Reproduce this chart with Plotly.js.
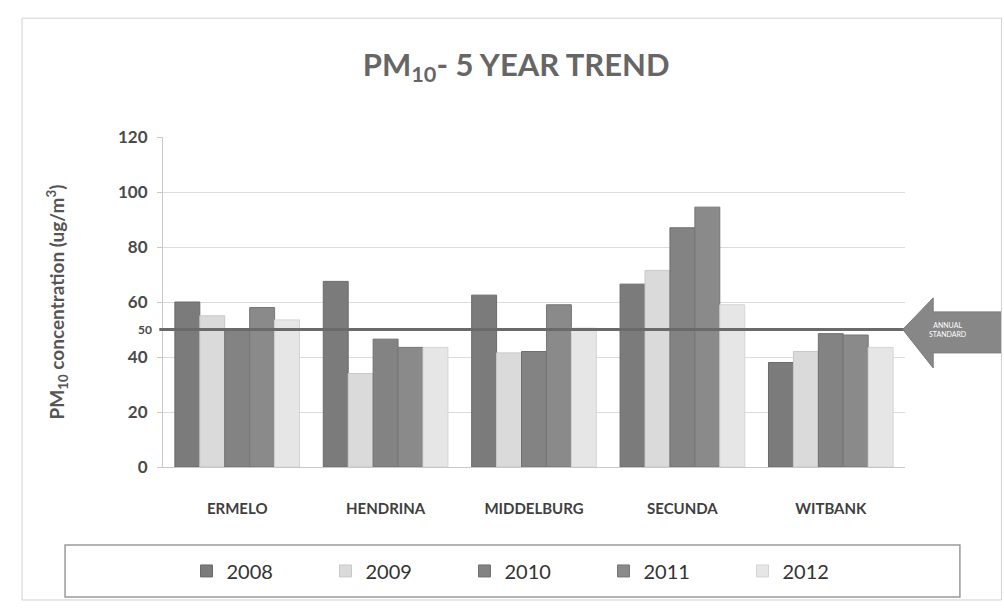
<!DOCTYPE html>
<html><head><meta charset="utf-8">
<script src="https://cdn.plot.ly/plotly-3.0.1.min.js"></script>
<style>body{margin:0;background:#fff}#chart{width:1004px;height:608px}</style>
</head><body><div id="chart"></div>
<script>
const sites = ["ERMELO", "HENDRINA", "MIDDELBURG", "SECUNDA", "WITBANK"];
const years = ["2008", "2009", "2010", "2011", "2012"];
const v2008 = [60, 67.5, 62.5, 66.5, 38];
const v2009 = [55, 34, 41.5, 71.5, 42];
const v2010 = [50, 46.5, 42, 87, 48.5];
const v2011 = [58, 43.5, 59, 94.5, 48];
const v2012 = [53.5, 43.5, 50.5, 59, 43.5];
const annualStandard = 50;
const yTicks = [0, 20, 40, 60, 80, 100, 120];

const series = [v2008, v2009, v2010, v2011, v2012];
const colors = ["#7b7b7b", "#dadada", "#838383", "#8a8a8a", "#e6e6e6"];
const lineColors = ["#6a6a6a", "#c8c8c8", "#707070", "#767676", "#d4d4d4"];

const traces = series.map((vals, i) => ({
  type: "bar",
  name: years[i],
  x: sites,
  y: vals,
  marker: {color: colors[i], line: {color: lineColors[i], width: 1}},
  hoverinfo: "x+y+name"
}));

const font = "Lato, 'Open Sans', sans-serif";
const layout = {
  width: 1004, height: 608,
  margin: {l: 163, r: 99, t: 137, b: 141, autoexpand: false},
  paper_bgcolor: "#ffffff", plot_bgcolor: "#ffffff",
  barmode: "group", bargap: 0.16, bargroupgap: 0,
  showlegend: true,
  title: {text: "PM<sub>10</sub>- 5 YEAR TREND", x: 0.476, xref: "paper", xanchor: "center",
          y: 0.893, yref: "container", yanchor: "middle",
          font: {family: font, size: 31, color: "#666666", weight: "bold"}},
  xaxis: {type: "category", showgrid: false, showline: true, linecolor: "#c8c8c8", linewidth: 1,
          ticks: "", ticklabelstandoff: 28,
          tickfont: {family: font, size: 15, color: "#3f3f3f", weight: "bold"}},
  yaxis: {range: [0, 120], tickvals: yTicks, ticktext: yTicks.map(String),
          showgrid: true, gridcolor: "#dcdcdc", gridwidth: 1,
          showline: true, linecolor: "#c8c8c8", zeroline: false,
          ticks: "outside", ticklen: 5, tickcolor: "#c8c8c8", ticklabelstandoff: 6,
          tickfont: {family: font, size: 17, color: "#4a4a4a", weight: "bold"},
          title: {text: "PM<sub>10</sub> concentration (ug/m<sup>3</sup>)", standoff: 48,
                  font: {family: font, size: 19, color: "#555555", weight: "bold"}}},
  legend: {orientation: "h", x: 0.5, xanchor: "center", y: -0.315, yanchor: "middle",
           entrywidth: 94, font: {family: font, size: 20, color: "#333333"},
           bgcolor: "rgba(0,0,0,0)", itemclick: false},
  shapes: [
    {type: "line", xref: "paper", yref: "y", x0: -0.005, x1: 1.0, y0: annualStandard, y1: annualStandard,
     line: {color: "#6a6a6a", width: 3}},
    {type: "path", xref: "paper", yref: "y",
     path: "M 0.997 " + annualStandard + " L 1.038 61.5 L 1.038 56.4 L 1.13 56.4 L 1.13 41.5 L 1.038 41.5 L 1.038 36 Z",
     fillcolor: "#878787", line: {color: "#7a7a7a", width: 1}},
    {type: "rect", xref: "paper", yref: "paper", x0: -0.132, x1: 1.074, y0: -0.236, y1: -0.394,
     line: {color: "#9a9a9a", width: 1.5}, fillcolor: "rgba(0,0,0,0)"},
    {type: "rect", xref: "paper", yref: "paper", x0: -0.19, x1: 1.13, y0: 1.36, y1: -0.403,
     line: {color: "#d0d0d0", width: 1}, fillcolor: "rgba(0,0,0,0)"}
  ],
  annotations: [
    {xref: "paper", yref: "y", x: 1.085, y: annualStandard, text: "ANNUAL<br>STANDARD", showarrow: false,
     font: {family: font, size: 7, color: "#ffffff"}, align: "center"},
    {xref: "paper", yref: "y", x: -0.012, y: annualStandard, xanchor: "right", text: "50", showarrow: false,
     font: {family: font, size: 12, color: "#4a4a4a", weight: "bold"}}
  ]
};

Plotly.newPlot("chart", traces, layout, {displayModeBar: false, staticPlot: true});
</script></body></html>
